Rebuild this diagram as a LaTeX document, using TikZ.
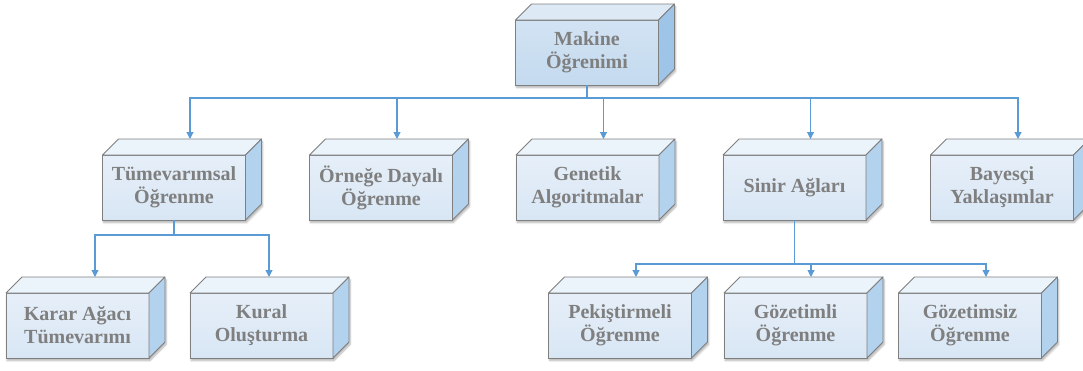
\documentclass[tikz,border=0pt]{standalone}
\usepackage{fontspec}
\setmainfont{Liberation Serif}
\usetikzlibrary{calc,arrows.meta,shadows.blur}

\definecolor{boxgray}{HTML}{7F7F7F}
\definecolor{txtgray}{HTML}{7F7F7F}
\definecolor{linkblue}{HTML}{5B9BD5}
\definecolor{frontA}{HTML}{E6EFF9}
\definecolor{frontB}{HTML}{D8E6F4}
\definecolor{topL}{HTML}{EBF3FB}
\definecolor{sideL}{HTML}{B3D2EE}
\definecolor{mainA}{HTML}{D2E3F3}
\definecolor{mainB}{HTML}{C4DAEF}
\definecolor{mainTop}{HTML}{DDEAF6}
\definecolor{mainSide}{HTML}{9EC4E7}

\pgfdeclarelayer{background}
\pgfsetlayers{background,main}

\newcommand\dep{16}
% top and right faces of a block, plus its soft drop shadow
\newcommand\cubefaces[3]{%
  \begin{pgfonlayer}{background}
    \path[fill=white,blur shadow={shadow xshift=1pt,shadow yshift=-2.5pt,shadow blur steps=6,shadow opacity=30}]
      (#1.south west) -- (#1.north west) -- ($(#1.north west)+(\dep,-\dep)$)
      -- ($(#1.north east)+(\dep,-\dep)$) -- ($(#1.south east)+(\dep,-\dep)$)
      -- (#1.south east) -- cycle;
  \end{pgfonlayer}
  \draw[face,fill=#2] (#1.north west) -- ($(#1.north west)+(\dep,-\dep)$)
      -- ($(#1.north east)+(\dep,-\dep)$) -- (#1.north east) -- cycle;
  \draw[face,fill=#3] (#1.north east) -- ($(#1.north east)+(\dep,-\dep)$)
      -- ($(#1.south east)+(\dep,-\dep)$) -- (#1.south east) -- cycle;
}

\tikzset{
  face/.style={draw=boxgray,line width=0.8pt,line join=round},
  blk/.style={rectangle,minimum width=143pt,minimum height=65pt,inner sep=0pt,
    outer sep=0pt,draw=boxgray,line width=0.8pt,top color=frontA,bottom color=frontB,
    font=\fontsize{20}{23}\selectfont\bfseries,text=txtgray,align=center},
  mainblk/.style={blk,top color=mainA,bottom color=mainB},
  conn/.style={draw=linkblue,line width=1.1pt},
  arr/.style={conn,-{Triangle[width=7pt,length=7pt]}},
}

\begin{document}
\begin{tikzpicture}[x=1pt,y=-1pt]
\useasboundingbox (0,0) rectangle (1083,370);

% root
\node[mainblk] (main) at (587,52.5) {Makine\\Öğrenimi};
\cubefaces{main}{mainTop}{mainSide}

% first level
\node[blk] (tum) at (174,187.5) {Tümevarımsal\\Öğrenme};
\cubefaces{tum}{topL}{sideL}
\node[blk] (orn) at (381,187.5) {Örneğe Dayalı\\Öğrenme};
\cubefaces{orn}{topL}{sideL}
\node[blk] (gen) at (587.5,187.5) {Genetik\\Algoritmalar};
\cubefaces{gen}{topL}{sideL}
\node[blk] (sin) at (794.5,187.5) {Sinir Ağları};
\cubefaces{sin}{topL}{sideL}
\node[blk] (bay) at (1002,187.5) {Bayesçi\\Yaklaşımlar};
\cubefaces{bay}{topL}{sideL}

% second level
\node[blk] (kar) at (77.5,325.5) {Karar Ağacı\\Tümevarımı};
\cubefaces{kar}{topL}{sideL}
\node[blk] (kur) at (261.5,325.5) {Kural\\Oluşturma};
\cubefaces{kur}{topL}{sideL}
\node[blk] (pek) at (620,325.5) {Pekiştirmeli\\Öğrenme};
\cubefaces{pek}{topL}{sideL}
\node[blk] (goz) at (795.5,325.5) {Gözetimli\\Öğrenme};
\cubefaces{goz}{topL}{sideL}
\node[blk] (gzs) at (970,325.5) {Gözetimsiz\\Öğrenme};
\cubefaces{gzs}{topL}{sideL}

% arrow targets on the top faces
\coordinate (tumT) at ($(tum.north)+(16,-16)$);
\coordinate (ornT) at ($(orn.north)+(16,-16)$);
\coordinate (genT) at ($(gen.north)+(16,-16)$);
\coordinate (sinT) at ($(sin.north)+(16,-16)$);
\coordinate (bayT) at ($(bay.north)+(16,-16)$);
\coordinate (karT) at ($(kar.north)+(17.5,-16)$);
\coordinate (kurT) at ($(kur.north)+(7.5,-16)$);
\coordinate (pekT) at ($(pek.north)+(16,-16)$);
\coordinate (gozT) at ($(goz.north)+(15.5,-16)$);
\coordinate (gzsT) at ($(gzs.north)+(16,-16)$);

% connectors
\draw[conn] (main.south) -- ++(0,13) coordinate (mbus);
\foreach \t in {tumT,ornT,genT,sinT,bayT} \draw[arr] (mbus) -| (\t);

\draw[conn] (tum.south) -- ++(0,15) coordinate (tbus);
\foreach \t in {karT,kurT} \draw[arr] (tbus) -| (\t);

\draw[conn] (sin.south) -- ++(0,44) coordinate (sbus);
\foreach \t in {pekT,gozT,gzsT} \draw[arr] (sbus) -| (\t);
\end{tikzpicture}
\end{document}
